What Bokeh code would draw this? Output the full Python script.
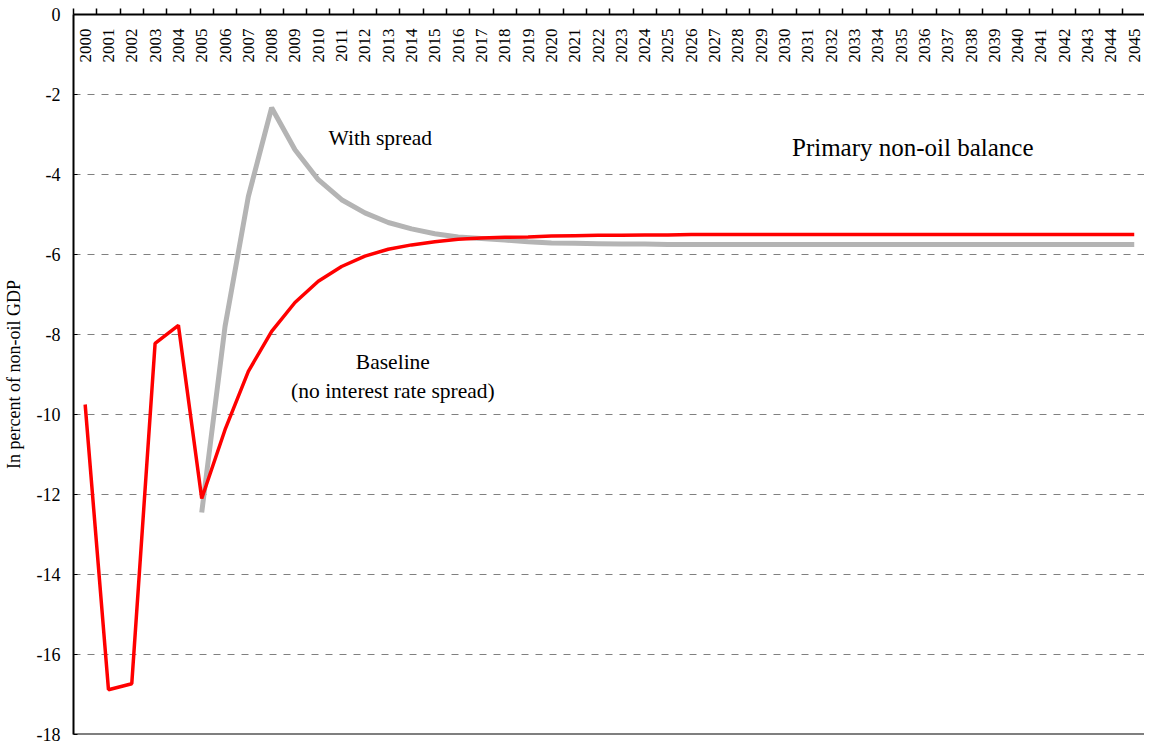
import math
from bokeh.plotting import figure
from bokeh.models import Range1d, FixedTicker, Label, Span
from bokeh.core.properties import value
from bokeh.embed import file_html
from bokeh.resources import INLINE

years = list(range(2000, 2046))
year_labels = [str(y) for y in years]
baseline = [-9.75, -16.88, -16.73, -8.22, -7.77, -12.1, -10.38, -8.92, -7.92, -7.2,
            -6.67, -6.3, -6.04, -5.87, -5.76, -5.68, -5.62, -5.59, -5.57, -5.56,
            -5.54, -5.53, -5.52, -5.52, -5.51, -5.51, -5.5, -5.5, -5.5, -5.5,
            -5.5, -5.5, -5.5, -5.5, -5.5, -5.5, -5.5, -5.5, -5.5, -5.5,
            -5.5, -5.5, -5.5, -5.5, -5.5, -5.5]
spread_years = list(range(2005, 2046))
with_spread = [-12.45, -7.8, -4.55, -2.33, -3.38, -4.13, -4.63, -4.96, -5.2, -5.36,
               -5.48, -5.56, -5.6, -5.64, -5.68, -5.71, -5.72, -5.73, -5.74, -5.74,
               -5.75, -5.75, -5.75, -5.75, -5.75, -5.75, -5.75, -5.75, -5.75, -5.75,
               -5.75, -5.75, -5.75, -5.75, -5.75, -5.75, -5.75, -5.75, -5.75, -5.75,
               -5.75]
y_ticks = [0, -2, -4, -6, -8, -10, -12, -14, -16, -18]
y_tick_labels = ["0", "-2", "-4", "-6", "-8", "-10", "-12", "-14", "-16", "-18"]
grid_ticks = [-2, -4, -6, -8, -10, -12, -14, -16]

FONT = "Liberation Serif"

p = figure(width=1144, height=742, output_backend="svg", toolbar_location=None,
           x_range=Range1d(1999.5, 2045.44), y_range=Range1d(-18, 0),
           x_axis_location="above", min_border_left=69, min_border_top=14,
           min_border_bottom=8, min_border_right=0)
p.outline_line_color = None
p.background_fill_color = "white"
p.border_fill_color = "white"

# top category axis: ticks between years, labels drawn as glyphs below
xa = p.xaxis[0]
xa.ticker = FixedTicker(ticks=[y - 0.5 for y in years])
xa.major_label_text_font_size = "0px"
xa.major_label_text_color = None
xa.major_label_standoff = 0
xa.major_tick_out = 6
xa.major_tick_in = 0
xa.minor_tick_out = 0
xa.minor_tick_in = 0
xa.axis_line_width = 2
xa.axis_line_color = "black"
xa.major_tick_line_color = "black"
xa.major_tick_line_width = 1.5

# bottom border line at the axis minimum
p.add_layout(Span(location=y_ticks[-1], dimension="width", line_color="black",
                  line_width=2))

ya = p.yaxis[0]
ya.ticker = FixedTicker(ticks=y_ticks)
ya.major_label_overrides = dict(zip(y_ticks, y_tick_labels))
ya.major_tick_in = 4
ya.major_tick_out = 0
ya.minor_tick_in = 0
ya.minor_tick_out = 0
ya.axis_line_width = 2
ya.axis_line_color = "black"
ya.major_tick_line_color = "black"
ya.major_label_text_font = FONT
ya.major_label_text_font_size = "18px"
ya.major_label_text_color = "black"
ya.major_label_standoff = 13
ya.axis_label = "In percent of non-oil GDP"
ya.axis_label_text_font = FONT
ya.axis_label_text_font_size = "18px"
ya.axis_label_text_font_style = "normal"
ya.axis_label_text_color = "black"
ya.axis_label_standoff = 10

p.xgrid.grid_line_color = None
p.ygrid.ticker = FixedTicker(ticks=grid_ticks)
p.ygrid.grid_line_color = "#808080"
p.ygrid.grid_line_dash = "7 7"
p.ygrid.grid_line_width = 1

# year labels under the top axis
p.text(x=years, y=[0] * len(years), text=year_labels, angle=math.pi / 2,
       text_align="right", text_baseline="middle", y_offset=14,
       text_font=value(FONT), text_font_size="17px", text_color="black")

p.line(spread_years, with_spread, line_color="#B4B4B4", line_width=5)
p.line(years, baseline, line_color="#FF0000", line_width=3.5)

p.add_layout(Label(x=2012.66, y=-3.08, text="With spread", text_align="center",
                   text_baseline="middle", text_font=FONT, text_font_size="21.5px",
                   text_color="black"))
p.add_layout(Label(x=2035.5, y=-3.33, text="Primary non-oil balance", text_align="center",
                   text_baseline="middle", text_font=FONT, text_font_size="25px",
                   text_color="black"))
p.add_layout(Label(x=2013.2, y=-8.68, text="Baseline", text_align="center",
                   text_baseline="middle", text_font=FONT, text_font_size="21.5px",
                   text_color="black"))
p.add_layout(Label(x=2013.2, y=-9.42, text="(no interest rate spread)", text_align="center",
                   text_baseline="middle", text_font=FONT, text_font_size="21.5px",
                   text_color="black"))

open("out.html", "w").write(file_html(p, INLINE))
